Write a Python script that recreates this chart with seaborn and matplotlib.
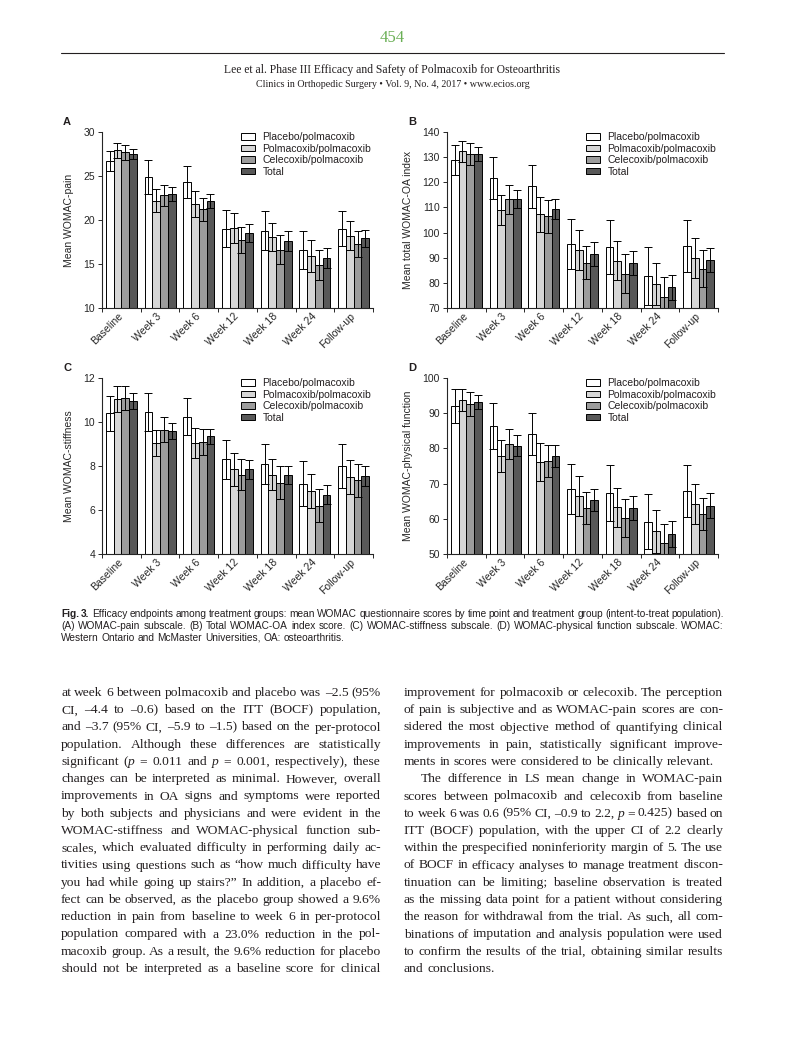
"""
plot.py - Página com Fig. 3 (escores WOMAC por tempo e grupo de tratamento)
"""

import re
import numpy as np
import pandas as pd
import matplotlib
matplotlib.use("Agg")
import matplotlib.pyplot as plt
from matplotlib.patches import Patch
import seaborn as sns

# ─── Dados ────────────────────────────────────────────────────────────────────
time_points = ["Baseline", "Week 3", "Week 6", "Week 12", "Week 18", "Week 24", "Follow-up"]
groups = ["Placebo/polmacoxib", "Polmacoxib/polmacoxib", "Celecoxib/polmacoxib", "Total"]
group_colors = ["#ffffff", "#d6d6d6", "#9c9c9c", "#585858"]

# (A) WOMAC-pain: uma linha por grupo
pain_means = [
    [26.7, 24.9, 24.3, 19.0, 18.8, 16.6, 19.0],
    [27.9, 22.2, 21.8, 19.1, 18.1, 15.9, 18.2],
    [27.7, 22.8, 21.2, 17.7, 16.6, 14.9, 17.3],
    [27.5, 23.0, 22.2, 18.5, 17.6, 15.7, 17.9],
]
pain_errs = [
    [1.1, 1.9, 1.8, 2.1, 2.2, 2.2, 2.0],
    [0.9, 1.3, 1.5, 1.7, 1.6, 1.8, 1.65],
    [0.85, 1.2, 1.3, 1.5, 1.65, 1.7, 1.5],
    [0.6, 0.8, 0.8, 1.0, 1.1, 1.1, 1.0],
]

# (B) Total WOMAC-OA index
total_means = [
    [128.8, 121.7, 118.4, 95.5, 94.3, 82.7, 94.6],
    [132.3, 108.9, 107.3, 93.1, 88.8, 79.5, 89.8],
    [131.2, 113.3, 106.5, 88.0, 83.7, 74.2, 85.7],
    [131.2, 113.4, 109.4, 91.5, 87.9, 78.2, 89.2],
]
total_errs = [
    [6.0, 8.5, 8.5, 9.8, 10.6, 11.4, 10.3],
    [4.3, 6.0, 7.0, 7.8, 7.7, 8.2, 8.0],
    [4.5, 5.8, 6.5, 6.6, 7.7, 8.0, 7.2],
    [2.7, 3.7, 4.1, 4.6, 4.9, 5.1, 4.8],
]

# (C) WOMAC-stiffness
stiff_means = [
    [10.4, 10.45, 10.25, 8.3, 8.1, 7.2, 8.0],
    [11.05, 9.05, 9.05, 7.85, 7.6, 6.85, 7.5],
    [11.1, 9.65, 9.1, 7.6, 7.25, 6.2, 7.35],
    [10.95, 9.6, 9.35, 7.85, 7.6, 6.7, 7.55],
]
stiff_errs = [
    [0.8, 0.88, 0.86, 0.9, 0.92, 1.04, 0.98],
    [0.6, 0.6, 0.7, 0.76, 0.71, 0.77, 0.77],
    [0.55, 0.56, 0.6, 0.7, 0.73, 0.74, 0.74],
    [0.36, 0.35, 0.35, 0.44, 0.42, 0.44, 0.45],
]

# (D) WOMAC-physical function
phys_means = [
    [92.0, 86.3, 84.0, 68.4, 67.3, 59.2, 67.9],
    [93.7, 77.9, 76.0, 66.5, 63.3, 56.5, 64.2],
    [92.5, 81.2, 76.4, 63.0, 60.2, 53.1, 61.4],
    [93.1, 80.8, 77.9, 65.4, 63.0, 55.8, 63.7],
]
phys_errs = [
    [4.8, 6.5, 6.0, 7.1, 7.9, 7.8, 7.3],
    [3.1, 4.5, 5.4, 5.6, 5.5, 6.1, 5.6],
    [3.4, 4.2, 4.5, 4.6, 5.3, 5.3, 4.6],
    [2.0, 2.9, 3.1, 3.1, 3.4, 3.7, 3.5],
]

# ─── Textos da página ─────────────────────────────────────────────────────────
page_number = "454"
header_1 = "Lee et al. Phase III Efficacy and Safety of Polmacoxib for Osteoarthritis"
header_2 = "Clinics in Orthopedic Surgery \u2022 Vol. 9, No. 4, 2017 \u2022 www.ecios.org"

caption_lines = [
    "#Fig.# #3.# Efficacy endpoints among treatment groups: mean WOMAC questionnaire scores by time point and treatment group (intent-to-treat population).",
    "(A) WOMAC-pain subscale. (B) Total WOMAC-OA index score. (C) WOMAC-stiffness subscale. (D) WOMAC-physical function subscale. WOMAC:",
    "Western Ontario and McMaster Universities, OA: osteoarthritis.",
]

left_lines = [
    "at week 6 between polmacoxib and placebo was \u20132.5 (95%",
    "CI, \u20134.4 to \u20130.6) based on the ITT (BOCF) population,",
    "and \u20133.7 (95% CI, \u20135.9 to \u20131.5) based on the per-protocol",
    "population. Although these differences are statistically",
    "significant (*p* = 0.011 and *p* = 0.001, respectively), these",
    "changes can be interpreted as minimal. However, overall",
    "improvements in OA signs and symptoms were reported",
    "by both subjects and physicians and were evident in the",
    "WOMAC-stiffness and WOMAC-physical function sub-",
    "scales, which evaluated difficulty in performing daily ac-",
    "tivities using questions such as \u201chow much difficulty have",
    "you had while going up stairs?\u201d In addition, a placebo ef-",
    "fect can be observed, as the placebo group showed a 9.6%",
    "reduction in pain from baseline to week 6 in per-protocol",
    "population compared with a 23.0% reduction in the pol-",
    "macoxib group. As a result, the 9.6% reduction for placebo",
    "should not be interpreted as a baseline score for clinical",
]
right_lines = [
    "improvement for polmacoxib or celecoxib. The perception",
    "of pain is subjective and as WOMAC-pain scores are con-",
    "sidered the most objective method of quantifying clinical",
    "improvements in pain, statistically significant improve-",
    "ments in scores were considered to be clinically relevant.",
    "The difference in LS mean change in WOMAC-pain",
    "scores between polmacoxib and celecoxib from baseline",
    "to week 6 was 0.6 (95% CI, \u20130.9 to 2.2, *p* = 0.425) based on",
    "ITT (BOCF) population, with the upper CI of 2.2 clearly",
    "within the prespecified noninferiority margin of 5. The use",
    "of BOCF in efficacy analyses to manage treatment discon-",
    "tinuation can be limiting; baseline observation is treated",
    "as the missing data point for a patient without considering",
    "the reason for withdrawal from the trial. As such, all com-",
    "binations of imputation and analysis population were used",
    "to confirm the results of the trial, obtaining similar results",
    "and conclusions.",
]
# linhas que encerram parágrafo (sem justificação) e linhas com recuo
right_last = {4, 16}
right_indent = {5}

# ─── Configuração ─────────────────────────────────────────────────────────────
W, H = 785, 1038
FS = 7.5  # fonte dos gráficos
sns.set_style("ticks")
plt.rcParams["font.family"] = ["Liberation Sans", "DejaVu Sans"]
plt.rcParams["axes.linewidth"] = 0.8
plt.rcParams["text.color"] = "#231f20"

serif_family = ["Liberation Serif", "DejaVu Serif"]
sans_family = ["Liberation Sans", "DejaVu Sans"]


def fx(px):
    return px / W


def fy(py):
    return 1 - py / H


# ─── Gráficos ─────────────────────────────────────────────────────────────────

def draw_panel(ax, means, errs, ylim, yticks, ylabel):
    rows = []
    for g, m_row in zip(groups, means):
        for t, v in zip(time_points, m_row):
            rows.append({"time": t, "group": g, "value": v})
    df = pd.DataFrame(rows)

    sns.barplot(data=df, x="time", y="value", hue="group", order=time_points,
                hue_order=groups, palette=group_colors, saturation=1,
                edgecolor="black", linewidth=0.7, width=0.8, errorbar=None,
                legend=False, ax=ax)

    containers = list(ax.containers)
    for cont, err_row in zip(containers, errs):
        xs = [b.get_x() + b.get_width() / 2 for b in cont]
        ys = [b.get_height() for b in cont]
        ax.errorbar(xs, ys, yerr=err_row, fmt="none", ecolor="black",
                    elinewidth=0.7, capsize=2.6, capthick=0.7, zorder=5)

    ax.set_ylim(*ylim)
    ax.set_yticks(yticks)
    ax.set_xlim(-0.5, len(time_points) - 0.5)
    ax.set_xticks(range(len(time_points)))
    ax.set_xticklabels(time_points, rotation=45, ha="right", va="center",
                       rotation_mode="anchor")
    ax.set_xticks(np.arange(-0.5, len(time_points), 1), minor=True)
    ax.tick_params(axis="x", which="major", length=0, pad=5, labelsize=FS)
    ax.tick_params(axis="x", which="minor", length=3, width=0.7, direction="out")
    ax.tick_params(axis="y", length=3, width=0.7, pad=2, labelsize=FS)
    ax.set_xlabel("")
    ax.set_ylabel(ylabel, fontsize=FS, labelpad=7)
    ax.grid(False)
    sns.despine(ax=ax)

    handles = [Patch(facecolor=c, edgecolor="black", linewidth=0.7) for c in group_colors]
    ax.legend(handles, groups, loc="upper left", bbox_to_anchor=(0.513, 1.0),
              frameon=False, fontsize=FS, handlelength=1.35, handleheight=0.6,
              handletextpad=0.7, labelspacing=0.15, borderpad=0, borderaxespad=0)


# ─── Texto justificado ────────────────────────────────────────────────────────

def parse_word(word):
    parts = re.split(r"(\*[^*]+\*|#[^#]+#)", word)
    out = []
    for p in parts:
        if not p:
            continue
        if p.startswith("*"):
            out.append((p[1:-1], {"style": "italic"}))
        elif p.startswith("#"):
            out.append((p[1:-1], {"weight": "bold"}))
        else:
            out.append((p, {}))
    return out


def measure(fig, renderer, s, **kw):
    t = fig.text(0, 0, s, **kw)
    w = t.get_window_extent(renderer).width
    t.remove()
    return w


def set_line(fig, renderer, x0, x1, y, line, size, justify=True, **kw):
    words = line.split(" ")
    space = measure(fig, renderer, "a a", fontsize=size, **kw) - measure(fig, renderer, "aa", fontsize=size, **kw)
    # reduz a fonte da linha se ela não couber na coluna
    for _ in range(8):
        natural = sum(measure(fig, renderer, txt, fontsize=size, **kw, **st)
                      for w in words for txt, st in parse_word(w))
        if natural + 0.7 * space * (len(words) - 1) <= x1 - x0:
            break
        size *= 0.985
        space *= 0.985
    placed = []
    for w in words:
        segs = []
        for txt, style in parse_word(w):
            t = fig.text(0, fy(y), txt, va="center", ha="left", fontsize=size, **kw, **style)
            segs.append((t, t.get_window_extent(renderer).width))
        placed.append(segs)
    widths = [sum(s[1] for s in segs) for segs in placed]
    if justify and len(words) > 1:
        gap = (x1 - x0 - sum(widths)) / (len(words) - 1)
    else:
        gap = space
    x = x0
    for segs, wd in zip(placed, widths):
        xx = x
        for t, sw in segs:
            t.set_x(fx(xx))
            xx += sw
        x += wd + gap


# ─── Main ─────────────────────────────────────────────────────────────────────

def main():
    fig = plt.figure(figsize=(W / 100, H / 100), dpi=100)
    renderer = fig.canvas.get_renderer()

    # Cabeçalho
    fig.text(fx(392.5), fy(38), page_number, ha="center", va="center",
             fontsize=12, color="#6aaf55", family=serif_family)
    fig.add_artist(plt.Line2D([fx(61), fx(724)], [fy(52.5), fy(52.5)],
                              color="#231f20", linewidth=0.8))
    fig.text(fx(392.5), fy(70), header_1, ha="center", va="center",
             fontsize=8.4, family=serif_family)
    fig.text(fx(392.5), fy(84.5), header_2, ha="center", va="center",
             fontsize=7.2, family=serif_family)

    # Painéis
    panels = [
        ("A", 102, 308, pain_means, pain_errs, (10, 30), [10, 15, 20, 25, 30], "Mean WOMAC-pain"),
        ("B", 447, 308, total_means, total_errs, (70, 140), list(range(70, 141, 10)), "Mean total WOMAC-OA index"),
        ("C", 102, 554, stiff_means, stiff_errs, (4, 12), [4, 6, 8, 10, 12], "Mean WOMAC-stiffness"),
        ("D", 447, 554, phys_means, phys_errs, (50, 100), list(range(50, 101, 10)), "Mean WOMAC-physical function"),
    ]
    for letter, left, bottom, means, errs, ylim, yticks, ylabel in panels:
        ax = fig.add_axes([fx(left), fy(bottom), 271 / W, 176 / H])
        draw_panel(ax, means, errs, ylim, yticks, ylabel)
        fig.text(fx(left - 39), fy(bottom - 186), letter, ha="left", va="center",
                 fontsize=8, weight="bold")

    # Legenda da figura
    for i, line in enumerate(caption_lines):
        set_line(fig, renderer, 61, 724, 614 + i * 12, line, 7.3,
                 justify=i < len(caption_lines) - 1, family=sans_family)

    # Corpo do texto em duas colunas
    step = 17.25
    for i, line in enumerate(left_lines):
        set_line(fig, renderer, 61, 381, 693 + i * step, line, 9.7,
                 justify=True, family=serif_family)
    for i, line in enumerate(right_lines):
        x0 = 404 + (17 if i in right_indent else 0)
        set_line(fig, renderer, x0, 723, 693 + i * step, line, 9.7,
                 justify=i not in right_last, family=serif_family)

    fig.savefig("out.png", dpi=100)
    plt.close(fig)


if __name__ == "__main__":
    main()
